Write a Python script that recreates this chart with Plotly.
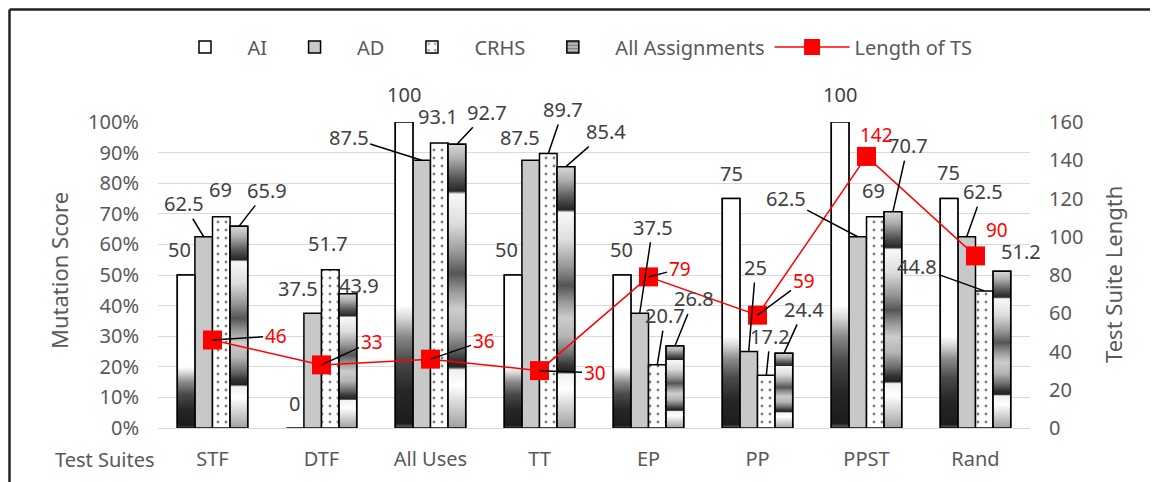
import plotly.graph_objects as go

# ---------------- data ----------------
categories = ["STF", "DTF", "All Uses", "TT", "EP", "PP", "PPST", "Rand"]
ai = [50, 0, 100, 50, 50, 75, 100, 75]
ad = [62.5, 37.5, 87.5, 87.5, 37.5, 25, 62.5, 62.5]
crhs = [69, 51.7, 93.1, 89.7, 20.7, 17.2, 69, 44.8]
all_assign = [65.9, 43.9, 92.7, 85.4, 26.8, 24.4, 70.7, 51.2]
ts_length = [46, 33, 36, 30, 79, 59, 142, 90]

y_ticks = [0, 10, 20, 30, 40, 50, 60, 70, 80, 90, 100]
y_tick_text = ["0%", "10%", "20%", "30%", "40%", "50%", "60%", "70%", "80%", "90%", "100%"]
y2_ticks = [0, 20, 40, 60, 80, 100, 120, 140, 160]

# ---------------- label placement (pixel offsets: dx, dy, leader) ----------------
ai_lbl = [(-7, -25, 0), (-1, -24, 0), (0, -27, 0), (-7, -25, 0),
          (-1, -25, 0), (0, -24, 0), (0, -27, 0), (-1, -25, 0)]
ad_lbl = [(-20, -32, 1), (-15, -24, 0), (-73, -22, 1), (-11, -22, 0),
          (13, -85, 1), (7, -83, 1), (-72, -37, 1), (16, -44, 1)]
crhs_lbl = [(-1, -26, 0), (-2, -25, 0), (-1, -26, 0), (15, -43, 1),
            (8, -48, 1), (4, -38, 1), (-2, -25, 0), (-67, -23, 1)]
aa_lbl = [(28, -35, 1), (11, -7, 0), (30, -31, 1), (40, -34, 1),
          (19, -46, 1), (20, -43, 1), (15, -65, 1), (19, -19, 0)]
len_lbl = [(63, -3, 1), (50, -22, 1), (53, -17, 1), (55, 3, 1),
           (31, -7, 1), (46, -33, 1), (10, -20, 0), (21, -25, 0)]

# ---------------- styles ----------------
FONT = "Noto Sans"
TXT = "#595959"
LBL = "#404040"
BAR_W = 0.1615
OFFS = [-2 * BAR_W, -BAR_W, 0.0, BAR_W]
OUTLINE = dict(color="black", width=1.5)
ADJ = -1  # vertical nudge for label text

AI_SCALE = [[0, "#6e6e6e"], [0.015, "#1c1c1c"], [0.12, "#262626"], [0.22, "#4a4a4a"],
            [0.30, "#8a8a8a"], [0.36, "#d8d8d8"], [0.40, "#ffffff"], [1, "#ffffff"]]
AA_SCALE = [[0, "#a0a0a0"], [0.15, "#ffffff"], [0.205, "#f0f0f0"], [0.215, "#222222"],
            [0.24, "#333333"], [0.28, "#6a6a6a"], [0.35, "#b5b5b5"], [0.42, "#cccccc"],
            [0.48, "#9a9a9a"], [0.545, "#555555"], [0.62, "#999999"], [0.72, "#dddddd"],
            [0.815, "#f6f6f6"], [0.825, "#f4f4f4"], [0.835, "#262626"], [0.88, "#555555"],
            [0.95, "#b0b0b0"], [1, "#d8d8d8"]]

# page has an 8px body margin: figure is shifted by PAGE px
PAGE = 8
W, H = 1158 - PAGE, 482 - PAGE
ML, MT = 158 - PAGE, 122 - PAGE
PW, PH = 872, 306
MR = W - ML - PW
MB = H - MT - PH


def px(xp, yp):
    """screen pixel -> paper coords"""
    return (xp - PAGE - ML) / PW, (H - MB - (yp - PAGE)) / PH


xs = list(range(len(categories)))
fig = go.Figure()

series = [
    ("AI", ai, dict(color="white", line=OUTLINE)),
    ("AD", ad, dict(color="#c8c8c8", line=OUTLINE)),
    ("CRHS", crhs, dict(color="white", line=OUTLINE,
                        pattern=dict(shape=".", fgcolor="black", bgcolor="white",
                                     size=8, solidity=0.1))),
    ("All Assignments", all_assign, dict(color="#aaaaaa", line=OUTLINE,
                                         pattern=dict(shape="-", fgcolor="#333333",
                                                      bgcolor="#bbbbbb", size=4,
                                                      solidity=0.4))),
]
for k, (name, vals, marker) in enumerate(series):
    fig.add_trace(go.Bar(x=xs, y=vals, name=name, width=BAR_W, offset=OFFS[k],
                         marker=marker, hoverinfo="skip"))

# gradient faces for AI and All Assignments bars
for k, vals, scale in [(0, ai, AI_SCALE), (3, all_assign, AA_SCALE)]:
    for i, v in enumerate(vals):
        if v <= 0:
            continue
        x0 = xs[i] + OFFS[k]
        x1 = x0 + BAR_W
        fig.add_trace(go.Scatter(
            x=[x0, x1, x1, x0, x0], y=[0, 0, v, v, 0], mode="lines",
            fill="toself", line=dict(color="black", width=1.5),
            fillgradient=dict(type="vertical", colorscale=scale),
            showlegend=False, hoverinfo="skip"))

fig.add_trace(go.Scatter(
    x=xs, y=ts_length, name="Length of TS", yaxis="y2", mode="lines+markers",
    line=dict(color="#ff0000", width=1.5),
    marker=dict(symbol="square", size=19, color="#ff0000"),
    hoverinfo="skip"))

ann = []


def add_label(x, y, yref, text, off, color, size):
    dx, dy, lead = off
    dy += ADJ
    a = dict(x=x, y=y, xref="x", yref=yref, text=text,
             font=dict(family=FONT, size=size, color=color))
    if lead:
        a.update(showarrow=True, ax=dx, ay=dy, arrowhead=0,
                 arrowwidth=1.5, arrowcolor="black", standoff=0)
    else:
        a.update(showarrow=False, xshift=dx, yshift=-dy,
                 xanchor="center", yanchor="middle")
    ann.append(a)


for k, (vals, lbls) in enumerate([(ai, ai_lbl), (ad, ad_lbl), (crhs, crhs_lbl),
                                  (all_assign, aa_lbl)]):
    for i, v in enumerate(vals):
        xc = xs[i] + OFFS[k] + BAR_W / 2
        add_label(xc, v, "y", f"{v:g}", lbls[i], LBL, 20)

for i, v in enumerate(ts_length):
    add_label(xs[i], v, "y2", f"{v:g}", len_lbl[i], "#ff0000", 19)

# axis titles and corner label
for (xp, yp), text, ang, sz in [((59, 271), "Mutation Score", -90, 22),
                                ((1113, 275), "Test Suite Length", -90, 22),
                                ((105, 459), "Test Suites", 0, 20)]:
    tx, ty = px(xp, yp)
    ann.append(dict(x=tx, y=ty, xref="paper", yref="paper", text=text,
                    textangle=ang, showarrow=False, xanchor="center",
                    yanchor="middle", font=dict(family=FONT, size=sz, color=TXT)))

# frame lines (top and left edges)
lx, _ = px(PAGE + 1.5, 0)
_, ty_top = px(0, PAGE + 1.5)
shapes = [
    dict(type="line", xref="paper", yref="paper", x0=lx, x1=1.3, y0=ty_top, y1=ty_top,
         line=dict(color="#222222", width=2.5)),
    dict(type="line", xref="paper", yref="paper", x0=lx, x1=lx, y0=ty_top, y1=-0.3,
         line=dict(color="#222222", width=2.5)),
]

fig.update_layout(
    width=W, height=H,
    margin=dict(l=ML, r=MR, t=MT, b=MB, autoexpand=False),
    paper_bgcolor="white", plot_bgcolor="white",
    barmode="overlay",
    font=dict(family=FONT, size=20, color=TXT),
    showlegend=True,
    legend=dict(orientation="h", x=px(570, 0)[0], xanchor="center", y=px(0, 47)[1],
                yanchor="middle", font=dict(family=FONT, size=20, color=TXT),
                traceorder="normal", itemwidth=75),
    xaxis=dict(range=[-0.5, len(categories) - 0.5], tickvals=xs, ticktext=categories,
               showgrid=False, zeroline=False, showline=True, linecolor="#d9d9d9",
               linewidth=1, ticks="", ticklabelstandoff=13,
               tickfont=dict(family=FONT, size=20, color=TXT)),
    yaxis=dict(range=[0, 100], tickvals=y_ticks, ticktext=y_tick_text, showgrid=True,
               gridcolor="#d9d9d9", gridwidth=1, zeroline=False, ticks="",
               ticklabelstandoff=18, tickfont=dict(family=FONT, size=20, color=TXT)),
    yaxis2=dict(range=[0, 160], tickvals=y2_ticks, overlaying="y", side="right",
                showgrid=False, zeroline=False, ticks="", ticklabelstandoff=18,
                tickfont=dict(family=FONT, size=20, color=TXT)),
    annotations=ann,
    shapes=shapes,
)

fig.write_html("out.html")
